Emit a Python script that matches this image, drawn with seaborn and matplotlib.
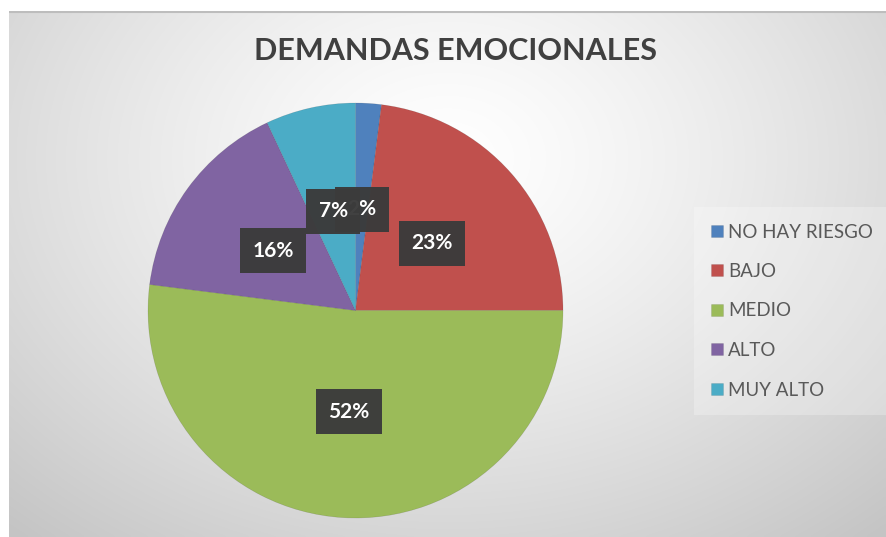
import numpy as np
import matplotlib
matplotlib.use("Agg")
import matplotlib.pyplot as plt
import seaborn as sns

sns.set_theme(style="white")
plt.rcParams['font.family'] = ['Lato', 'DejaVu Sans']

categories = ["NO HAY RIESGO", "BAJO", "MEDIO", "ALTO", "MUY ALTO"]
values = [2, 23, 52, 16, 7]
colors = ["#4F81BD", "#C0504D", "#9BBB59", "#8064A2", "#4BACC6"]
title = "DEMANDAS EMOCIONALES"

W, H = 886, 537
fig = plt.figure(figsize=(W / 100, H / 100), dpi=100)
fig.patch.set_facecolor("white")

# background panel with radial gradient
x0, y0 = 9, 11
bg = fig.add_axes([x0 / W, 0, (W - x0) / W, (H - y0) / H])
bg.set_axis_off()
nx, ny = 300, 200
xx, yy = np.meshgrid(np.linspace(0, 1, nx), np.linspace(0, 1, ny))
cx, cy = 0.50, 0.72
d = np.sqrt(((xx - cx) / 0.75) ** 2 + ((yy - cy) / 0.95) ** 2)
d = np.clip(d, 0, 1)
v = 1.0 - 0.23 * d ** 1.3
img = np.dstack([v, v, v])
bg.imshow(img, origin="lower", extent=[0, 1, 0, 1], aspect="auto", interpolation="bicubic")
bg.set_xlim(0, 1)
bg.set_ylim(0, 1)
bg.plot([0, 1], [0.998, 0.998], color="#bdbdbd", lw=1.5, transform=bg.transAxes)

# pie axes
cxp, cyp, r = 355.5, 310.5, 207.5
ax = fig.add_axes([(cxp - r) / W, (H - cyp - r) / H, 2 * r / W, 2 * r / H])
ax.set_axis_off()
wedges, texts, autotexts = ax.pie(
    values, colors=colors, startangle=90, counterclock=False,
    autopct=lambda p: f"{p:.0f}%", pctdistance=0.49, radius=1,
    wedgeprops=dict(linewidth=0.4, edgecolor=(0, 0, 0, 0.15)),
)
ax.set_xlim(-1, 1)
ax.set_ylim(-1, 1)
for t in autotexts:
    t.set_color("white")
    t.set_fontsize(15)
    t.set_fontweight("bold")
    t.set_bbox(dict(boxstyle="square,pad=0.6", facecolor="#3b3b3b", edgecolor="none",
                    hatch="..", alpha=0.97))
# put 7% on top of 2%
autotexts[4].set_zorder(10)
autotexts[0].set_zorder(9)

fig.text(455 / W, 1 - 51 / H, title, ha="center", va="center",
         fontsize=22, fontweight="bold", color="#404040")

leg = fig.legend(wedges, categories, loc="center left",
                 bbox_to_anchor=(700 / W, 1 - 311 / H),
                 frameon=True, framealpha=0.25, fontsize=13.5, labelcolor="#595959",
                 handlelength=0.6, handleheight=0.6, handletextpad=0.3,
                 labelspacing=1.2, borderpad=0.6, borderaxespad=0)
leg.get_frame().set_facecolor("white")
leg.get_frame().set_edgecolor("none")
leg.get_frame().set_boxstyle("square")

fig.savefig("out.png", dpi=100, facecolor=fig.get_facecolor())
